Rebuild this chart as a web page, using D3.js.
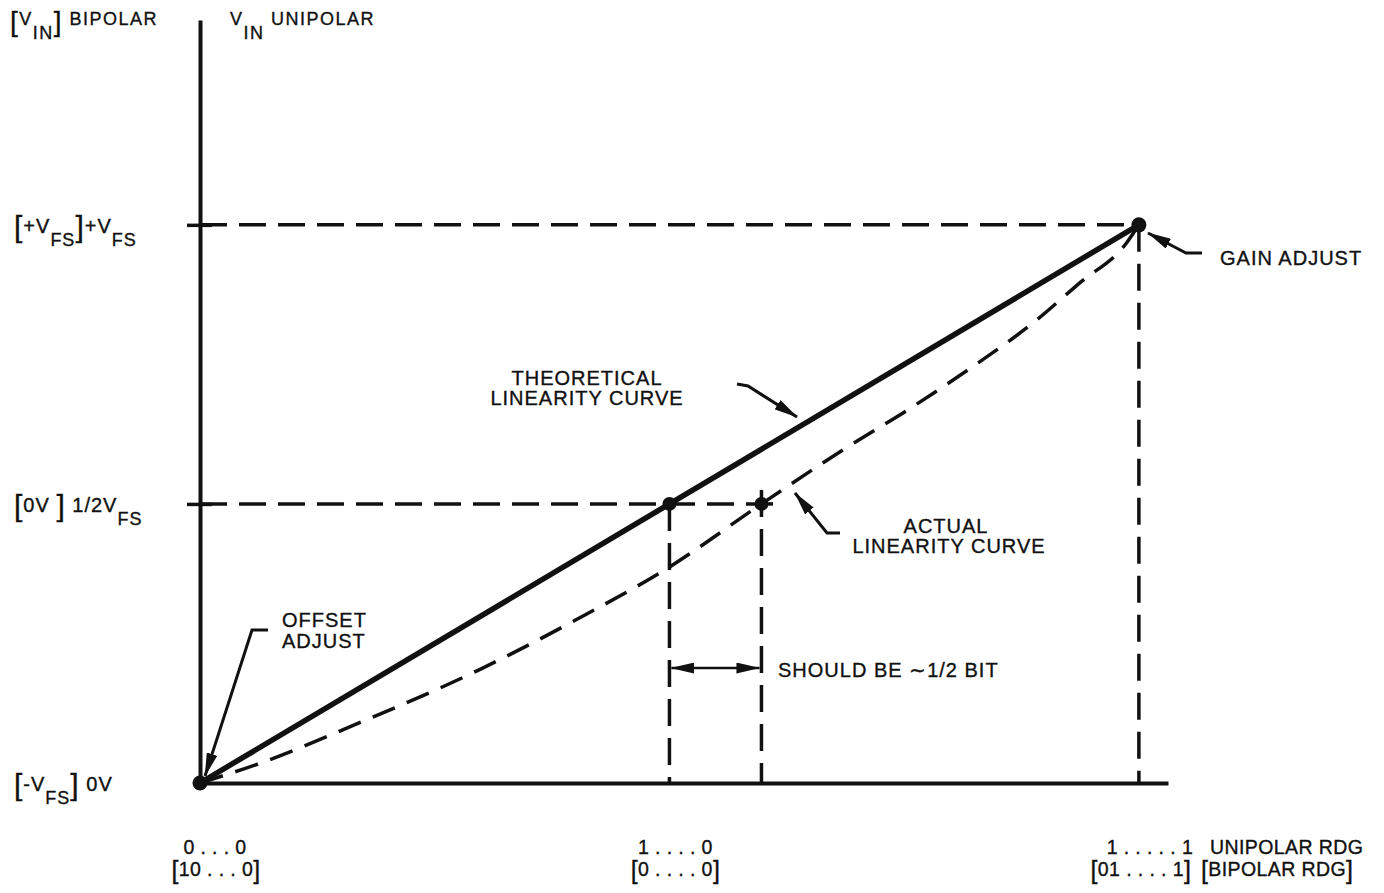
<!DOCTYPE html>
<html>
<head>
<meta charset="utf-8">
<script src="https://cdn.jsdelivr.net/npm/d3@7"></script>
<style>
  html, body { margin: 0; padding: 0; background: #fff; }
  svg { display: block; font-family: "Liberation Sans", Arial, Helvetica, sans-serif; }
  text { fill: #111; stroke: #111; stroke-width: 0.35px; white-space: pre; }
</style>
</head>
<body>
<svg id="chart" width="1384" height="893"></svg>
<script>
// Converter transfer function: analog input vs. digital reading.
// Both axes are expressed as a fraction of full scale.
const xDomain = [0, 1.031];
const yDomain = [0, 1.367];

const yTickValues = [0, 0.5, 1];
// Rich-text labels: [text, kind] with kind n = normal, s = subscript, b = bracket
const yTickLabels = [
  [["[", "b"], ["-V", "n"], ["FS", "s"], ["]", "b"], [" 0V", "n"]],
  [["[", "b"], ["0V ", "n"], ["]", "b"], [" 1/2V", "n"], ["FS", "s"]],
  [["[", "b"], ["+V", "n"], ["FS", "s"], ["]", "b"], ["+V", "n"], ["FS", "s"]]
];

const xTickValues = [0, 0.5, 1];
const xCodesUnipolar = ["0 . . . 0", "1 . . . . 0", "1 . . . . . 1"];
const xCodesBipolar = ["10 . . . 0", "0 . . . . 0", "01 . . . . 1"];
const xTitleUnipolar = "UNIPOLAR RDG";
const xTitleBipolar = "BIPOLAR RDG";

const yTitleBipolar = [["[", "b"], ["V", "n"], ["IN", "s"], ["]", "b"], [" BIPOLAR", "n"]];
const yTitleUnipolar = [["V", "n"], ["IN", "s"], [" UNIPOLAR", "n"]];

// Ideal straight-line transfer and the measured (bowed) transfer
const theoretical = [[0, 0], [1, 1]];
const actual = [
  [0, 0], [0.06, 0.033], [0.170, 0.108], [0.30, 0.205], [0.40, 0.292],
  [0.50, 0.387], [0.598, 0.5], [0.685, 0.597], [0.759, 0.674], [0.823, 0.746],
  [0.887, 0.824], [0.937, 0.896], [0.987, 0.968], [1, 1]
];
const dots = [[0, 0], [0.5, 0.5], [0.598, 0.5], [1, 1]];

const svg = d3.select("#chart");
const x = d3.scaleLinear().domain(xDomain).range([200, 1168]);
const y = d3.scaleLinear().domain(yDomain).range([783, 20]);

// Arrowhead
svg.append("defs").append("marker")
  .attr("id", "head")
  .attr("markerUnits", "userSpaceOnUse")
  .attr("viewBox", "0 0 24 11")
  .attr("markerWidth", 24).attr("markerHeight", 11)
  .attr("refX", 23).attr("refY", 5.5)
  .attr("orient", "auto-start-reverse")
  .append("path").attr("d", "M0,0L24,5.5L0,11Z").attr("fill", "#111");

function rich(parent, px, py, segs, st, anchor) {
  const t = parent.append("text")
    .attr("x", px).attr("y", py)
    .attr("text-anchor", anchor || "start")
    .attr("letter-spacing", st.ls);
  let cur = 0;
  segs.forEach(([str, kind]) => {
    const s = st[kind];
    t.append("tspan").attr("dy", s.shift - cur).attr("font-size", s.size).text(str);
    cur = s.shift;
  });
  return t;
}

const tickStyle = { ls: 1, n: { size: 20, shift: 0 }, s: { size: 18, shift: 13 }, b: { size: 30, shift: 4 } };
const titleStyle = { ls: 1.5, n: { size: 18, shift: 0 }, s: { size: 18, shift: 14 }, b: { size: 28, shift: 6 } };
const codeStyle = { ls: 0.4, n: { size: 19.5, shift: 0 }, b: { size: 25, shift: 3 } };

// Guide lines (dashed) from the axes to the calibration points
const guides = svg.append("g").attr("fill", "none").attr("stroke", "#111")
  .attr("stroke-width", 3.5).attr("stroke-dasharray", "27,12");
const hAct = dots[2], hTh = dots[1], fs = dots[3];
guides.append("line").attr("x1", x(0)).attr("x2", x(fs[0])).attr("y1", y(fs[1])).attr("y2", y(fs[1]));
guides.append("line").attr("x1", x(0)).attr("x2", x(hAct[0] + 0.022)).attr("y1", y(hAct[1])).attr("y2", y(hAct[1]));
guides.append("line").attr("x1", x(hTh[0])).attr("x2", x(hTh[0])).attr("y1", y(hTh[1])).attr("y2", y(0));
guides.append("line").attr("x1", x(hAct[0])).attr("x2", x(hAct[0])).attr("y1", y(hAct[1] + 0.025)).attr("y2", y(0));
guides.append("line").attr("x1", x(fs[0])).attr("x2", x(fs[0])).attr("y1", y(fs[1])).attr("y2", y(0));

// Axes
const gy = svg.append("g").attr("transform", `translate(${x(0)},0)`)
  .call(d3.axisLeft(y).tickValues(yTickValues.filter(v => v > 0)).tickSizeInner(13).tickSizeOuter(0).tickFormat(""));
gy.select(".domain").attr("stroke", "#111").attr("stroke-width", 4);
gy.selectAll(".tick line").attr("x1", 12).attr("x2", -13).attr("stroke", "#111").attr("stroke-width", 3.5);

const gx = svg.append("g").attr("transform", `translate(0,${y(0)})`)
  .call(d3.axisBottom(x).tickValues([]).tickSizeOuter(0));
gx.select(".domain").attr("stroke", "#111").attr("stroke-width", 4);

// Curves
const line = d3.line().x(d => x(d[0])).y(d => y(d[1]));
svg.append("path").datum(actual)
  .attr("d", line.curve(d3.curveMonotoneX))
  .attr("fill", "none").attr("stroke", "#111").attr("stroke-width", 3.5)
  .attr("stroke-dasharray", "24,13");
svg.append("path").datum(theoretical)
  .attr("d", d3.line().x(d => x(d[0])).y(d => y(d[1])))
  .attr("fill", "none").attr("stroke", "#111").attr("stroke-width", 5.5);

svg.append("g").selectAll("circle").data(dots).join("circle")
  .attr("cx", d => x(d[0])).attr("cy", d => y(d[1]))
  .attr("r", (d, i) => (i === 1 || i === 2) ? 7 : 7.5)
  .attr("fill", "#111");

// Y tick labels and titles
yTickValues.forEach((v, i) => rich(svg, 14, y(v) + 8, yTickLabels[i], tickStyle));
rich(svg, 10, 25, yTitleBipolar, titleStyle);
rich(svg, 230, 25, yTitleUnipolar, titleStyle);

// X tick labels (unipolar code above, bipolar code in brackets below)
const codeDx = [15, 6, 11];
const bipDx = [16, 6, 2];
xTickValues.forEach((v, i) => {
  rich(svg, x(v) + codeDx[i], 854, [[xCodesUnipolar[i], "n"]], codeStyle, "middle");
  rich(svg, x(v) + bipDx[i], 876, [["[", "b"], [xCodesBipolar[i], "n"], ["]", "b"]], codeStyle, "middle");
});
rich(svg, 1210, 854, [[xTitleUnipolar, "n"]], codeStyle);
rich(svg, 1201, 876, [["[", "b"], [xTitleBipolar, "n"], ["]", "b"]], codeStyle);

// Annotations
const ann = svg.append("g").attr("font-size", 20).attr("letter-spacing", 1);
ann.append("text").attr("x", 587).attr("y", 385).attr("text-anchor", "middle").text("THEORETICAL");
ann.append("text").attr("x", 587).attr("y", 405).attr("text-anchor", "middle").text("LINEARITY CURVE");
ann.append("text").attr("x", 946).attr("y", 533).attr("text-anchor", "middle").text("ACTUAL");
ann.append("text").attr("x", 949).attr("y", 553).attr("text-anchor", "middle").text("LINEARITY CURVE");
ann.append("text").attr("x", 282).attr("y", 627).text("OFFSET");
ann.append("text").attr("x", 282).attr("y", 648).text("ADJUST");
ann.append("text").attr("x", 1220).attr("y", 265).text("GAIN ADJUST");
ann.append("text").attr("x", 778).attr("y", 677).text("SHOULD BE \u223C1/2 BIT");

const arrows = [
  [[737, 384], [748, 386], [797, 417]],
  [[840, 533], [827, 533], [795, 493]],
  [[268, 630], [252, 630], [205, 776]],
  [[1202, 253], [1186, 253], [1148, 233]]
];
const arrowG = svg.append("g").attr("fill", "none").attr("stroke", "#111").attr("stroke-width", 3);
arrows.forEach(pts => {
  arrowG.append("path").attr("d", d3.line()(pts)).attr("marker-end", "url(#head)");
});
// Span between the two half-scale points
const spanY = 668;
arrowG.append("path")
  .attr("d", d3.line()([[x(hTh[0]) + 2, spanY], [x(hAct[0]) - 2, spanY]]))
  .attr("stroke-width", 2.5)
  .attr("marker-start", "url(#head)").attr("marker-end", "url(#head)");
</script>
</body>
</html>
